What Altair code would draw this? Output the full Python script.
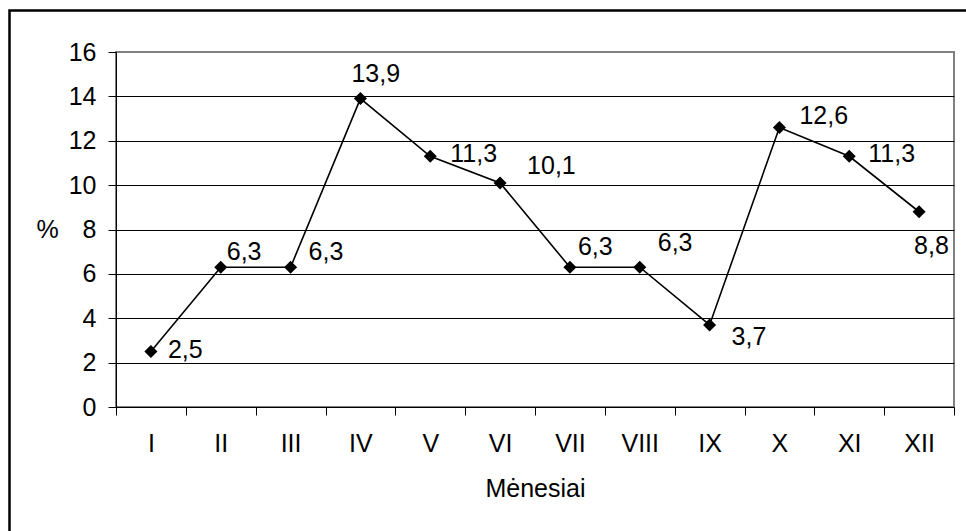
import altair as alt
import pandas as pd

# Monthly share, %
months = ["I", "II", "III", "IV", "V", "VI", "VII", "VIII", "IX", "X", "XI", "XII"]
share = [2.5, 6.3, 6.3, 13.9, 11.3, 10.1, 6.3, 6.3, 3.7, 12.6, 11.3, 8.8]

# Per-point placement of the value labels (pixels, relative to the marker)
label_dx = [17, 6, 18, -9, 20, 27, 8, 18, 22, 20, 19, -5]
label_dy = [-2, -15, -15, -25, -2, -17, -20, -24, 12, -11, -2, 34]

df = pd.DataFrame({"idx": list(range(1, len(months) + 1)), "month": months, "share": share})

W, H = 838, 355
LEFT, TOP = 116, 52
FONT = "Liberation Sans"
FS = 25

x_scale = alt.Scale(domain=[0.5, len(months) + 0.5], nice=False, zero=False)
y_scale = alt.Scale(domain=[0, 16], nice=False)

band_edges = [i + 0.5 for i in range(len(months) + 1)]
month_lookup = "[" + ",".join(f"'{m}'" for m in months) + "][datum.value - 1]"

# Value axis: labels, ticks and the "%" title
y_axis = alt.Axis(
    values=list(range(0, 17, 2)), orient="left",
    title="%", titleAngle=0, titleX=-69, titleY=H / 2,
    titleAlign="center", titleBaseline="middle",
    titleFont=FONT, titleFontSize=FS, titleFontWeight="normal", titleColor="black",
    labelFont=FONT, labelFontSize=FS, labelColor="black", labelPadding=12,
    tickSize=8, tickColor="black", tickWidth=1,
    domainColor="black", domainWidth=1,
    grid=False,
)

# Horizontal gridlines inside the plot (top edge is the grey frame)
grid_axis = alt.Axis(
    values=list(range(2, 16, 2)), orient="left",
    labels=False, ticks=False, domain=False, title=None,
    grid=True, gridColor="black", gridWidth=1,
)

# Category boundary ticks along the bottom
tick_axis = alt.Axis(
    values=band_edges, labels=False, orient="bottom",
    tickSize=8, tickColor="black", tickWidth=1,
    domainColor="black", domainWidth=1, grid=False, title=None,
)

# Month names centred in each category
label_axis = alt.Axis(
    values=list(range(1, len(months) + 1)), labelExpr=month_lookup, orient="bottom",
    ticks=False, domain=False, grid=False,
    labelFont=FONT, labelFontSize=FS, labelColor="black", labelPadding=24,
    title="Mėnesiai", titleFont=FONT, titleFontSize=FS, titleFontWeight="normal",
    titleColor="black", titlePadding=20,
)

base = alt.Chart(df)

line = base.mark_line(color="black", strokeWidth=1.6).encode(
    x=alt.X("idx:Q", scale=x_scale, axis=tick_axis),
    y=alt.Y("share:Q", scale=y_scale, axis=y_axis),
)

points = base.mark_point(shape="diamond", filled=True, color="black", size=170, opacity=1).encode(
    x=alt.X("idx:Q", scale=x_scale, axis=label_axis),
    y=alt.Y("share:Q", scale=y_scale, axis=grid_axis),
)

labels = []
for m, dx, dy in zip(months, label_dx, label_dy):
    labels.append(
        base.transform_filter(alt.datum.month == m)
        .transform_calculate(txt="replace(format(datum.share, '.1f'), '.', ',')")
        .mark_text(align="left", baseline="middle", dx=dx, dy=dy,
                   font=FONT, fontSize=FS, color="black")
        .encode(
            x=alt.X("idx:Q", scale=x_scale, axis=None),
            y=alt.Y("share:Q", scale=y_scale, axis=None),
            text="txt:N",
        )
    )

# Outer chart frame
frame = alt.Chart(pd.DataFrame({"frame": [0]})).mark_rect(
    fillOpacity=0, stroke="black", strokeWidth=2.5
).encode(
    x=alt.value(9.5 - LEFT), x2=alt.value(W + 60),
    y=alt.value(10.5 - TOP), y2=alt.value(H + 160),
)

chart = (
    alt.layer(line, points, *labels, frame)
    .resolve_axis(x="independent", y="independent")
    .properties(
        width=W, height=H,
        autosize=alt.AutoSizeParams(type="none"),
        padding={"left": LEFT, "top": TOP, "right": 966 - LEFT - W, "bottom": 531 - TOP - H},
        background="white",
    )
    .configure_view(stroke="#808080", strokeWidth=2)
)

chart.save("out.html", embed_options={"renderer": "svg", "actions": False})
